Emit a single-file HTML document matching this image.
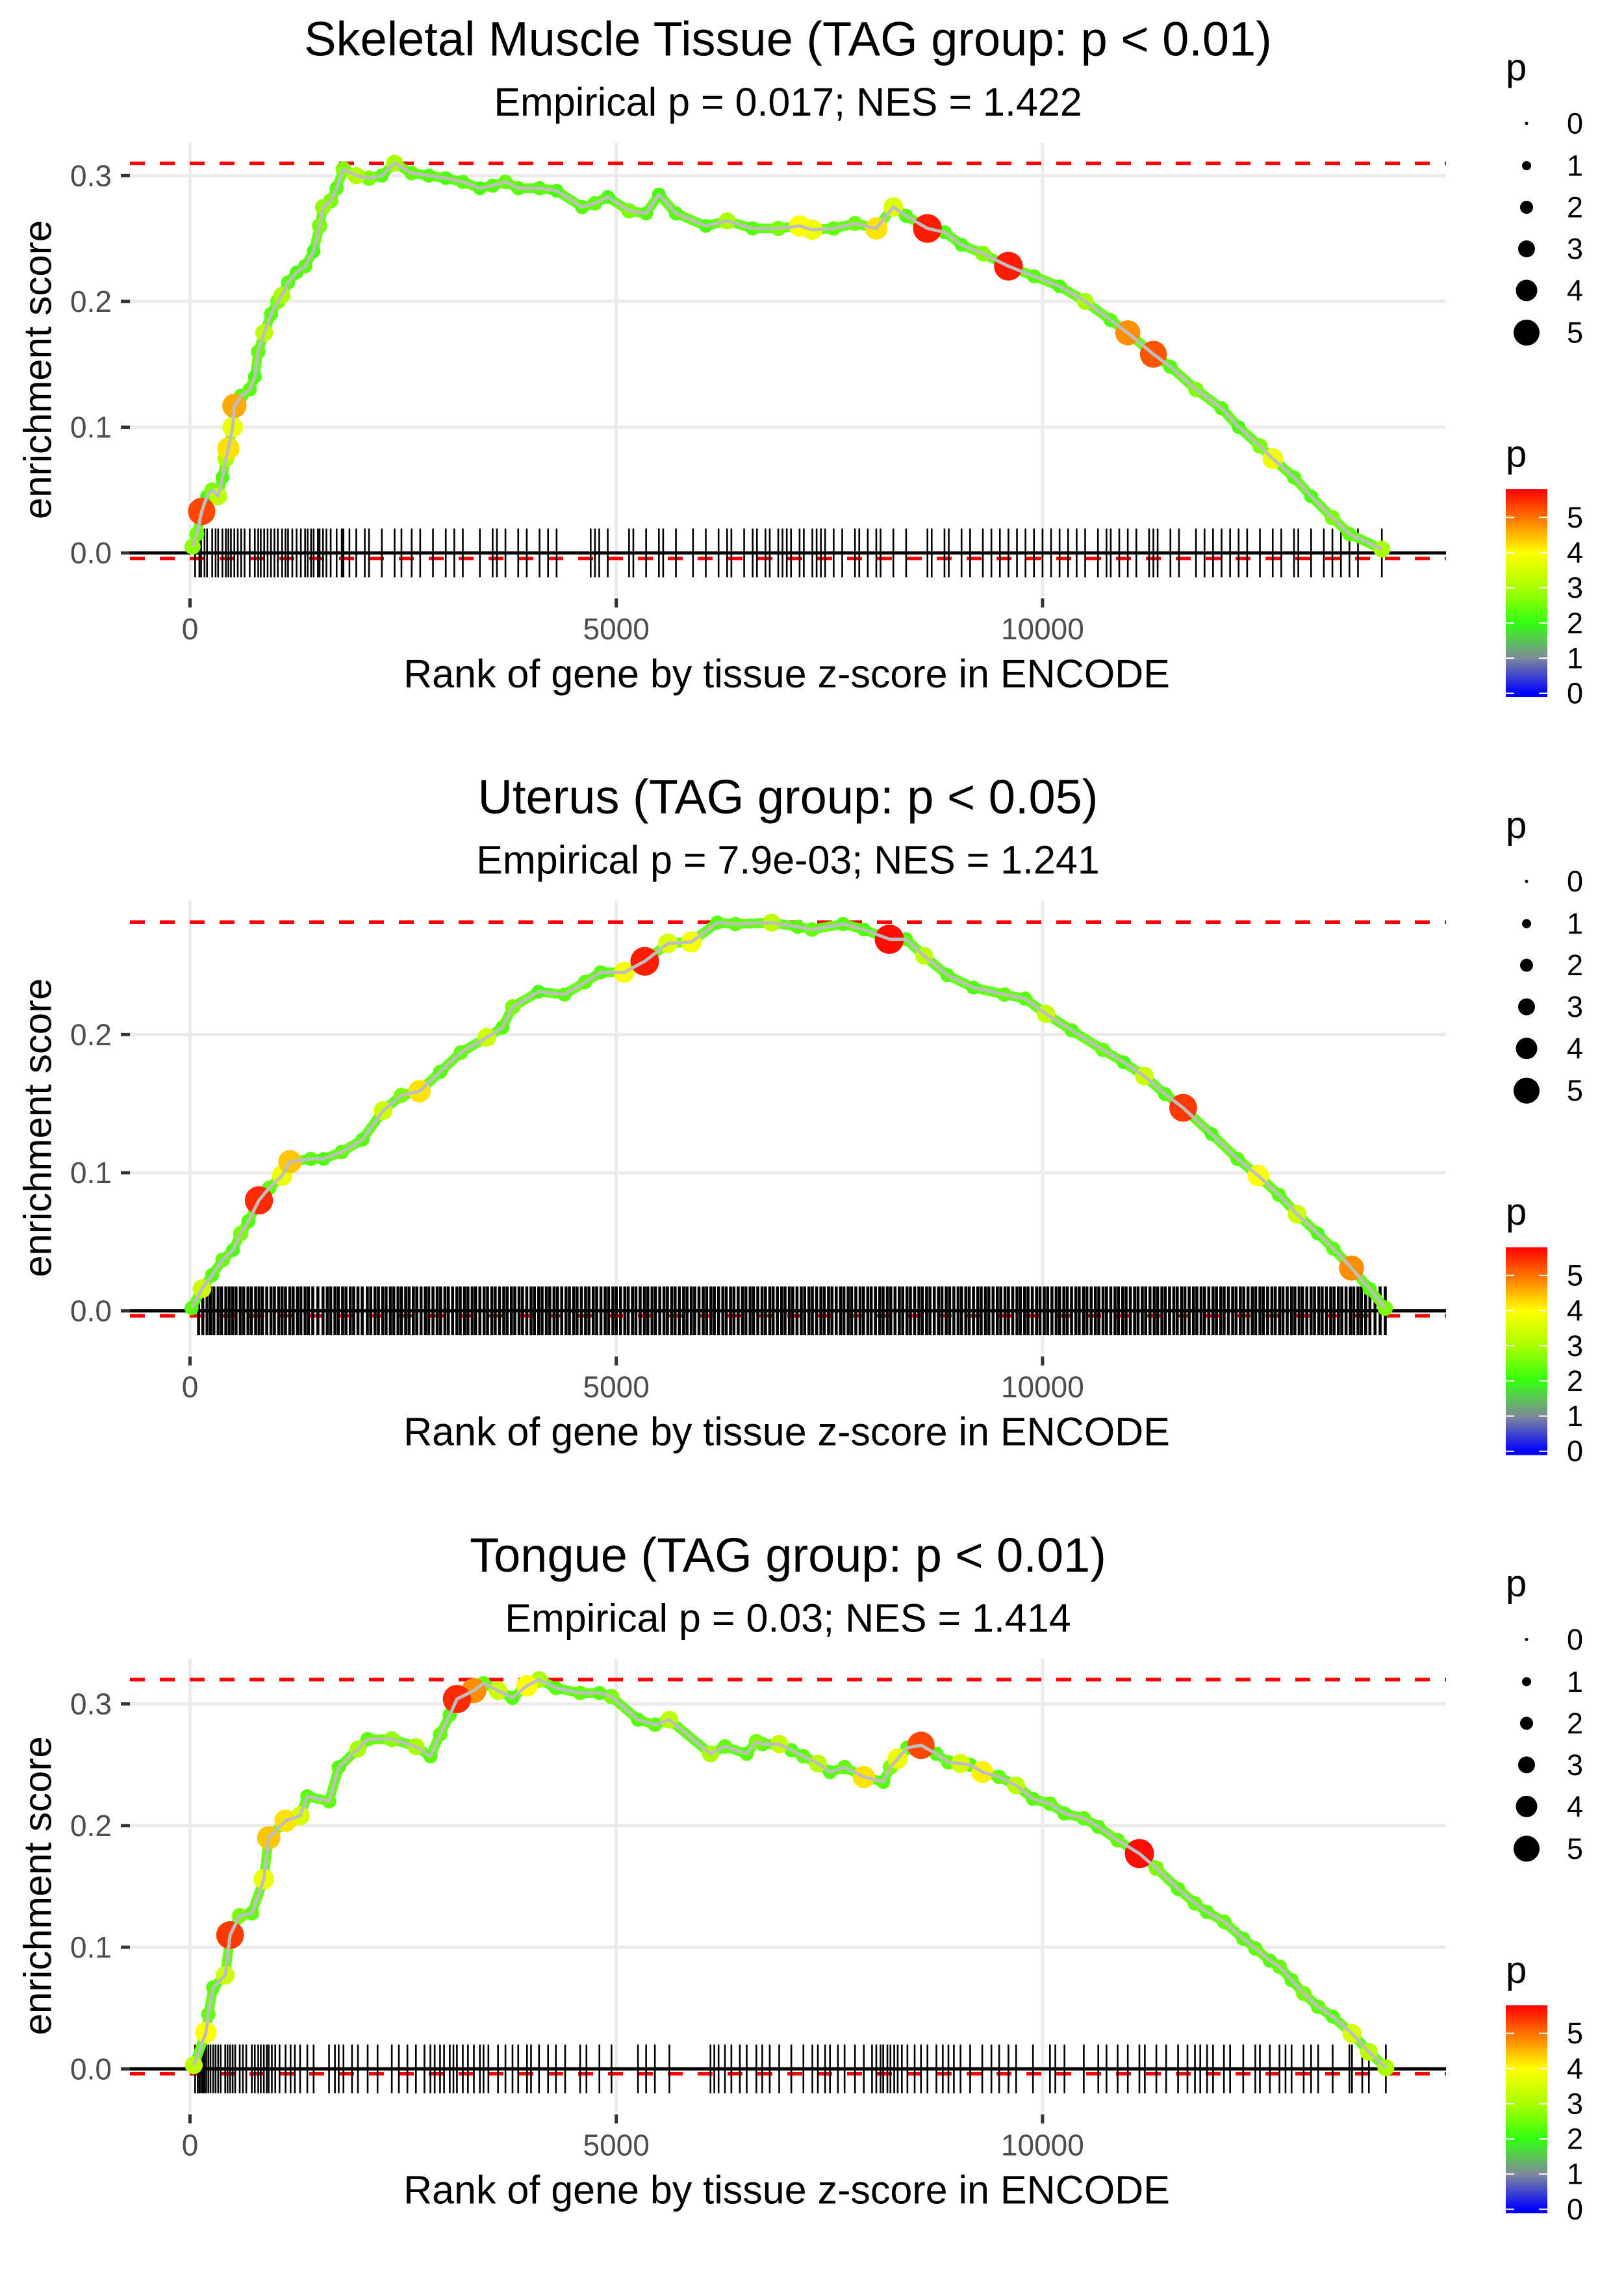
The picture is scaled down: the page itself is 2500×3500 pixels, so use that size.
<!DOCTYPE html>
<html><head><meta charset="utf-8">
<style>
html,body{margin:0;padding:0;background:#fff;}
svg{display:block;font-family:"Liberation Sans",Arial,sans-serif;}
</style></head>
<body>
<svg id="chart" width="2500" height="3500" viewBox="0 0 2500 3500" xmlns="http://www.w3.org/2000/svg"></svg>
<script>
// ---------- DATA ----------
const xTicks = [0, 5000, 10000];
const xTickLabels = ["0", "5000", "10000"];

const skeletalTitle = "Skeletal Muscle Tissue (TAG group: p < 0.01)";
const skeletalSubtitle = "Empirical p = 0.017; NES = 1.422";
const skeletalYDomain = [-0.0346, 0.326];
const skeletalYTicks = [0.0, 0.1, 0.2, 0.3];
const skeletalYTickLabels = ["0.0", "0.1", "0.2", "0.3"];
const skeletalMaxES = 0.3098;
const skeletalMinES = -0.0044;
const skeletalRank = [30,80,137,200,260,330,380,420,450,500,520,560,600,700,760,800,870,950,1030,1080,1150,1250,1350,1450,1520,1560,1650,1720,1800,1950,2100,2250,2400,2600,2800,3000,3200,3400,3550,3700,3850,4100,4300,4600,4750,4900,5150,5350,5500,5700,6050,6300,6600,6900,7150,7300,7550,7800,8050,8250,8400,8650,8850,9050,9300,9600,9900,10200,10500,10800,11000,11300,11500,11800,12100,12300,12550,12700,12950,13150,13400,13600,13980];
const skeletalES = [0.005,0.015,0.033,0.045,0.05,0.045,0.06,0.075,0.083,0.1,0.117,0.12,0.125,0.13,0.14,0.16,0.175,0.19,0.2,0.205,0.215,0.223,0.228,0.24,0.26,0.275,0.28,0.29,0.305,0.3,0.298,0.3,0.31,0.302,0.3,0.298,0.295,0.29,0.292,0.295,0.29,0.29,0.288,0.275,0.278,0.283,0.272,0.27,0.285,0.27,0.26,0.264,0.258,0.258,0.26,0.257,0.258,0.262,0.258,0.275,0.268,0.258,0.255,0.245,0.238,0.228,0.22,0.212,0.2,0.185,0.175,0.158,0.148,0.13,0.115,0.1,0.085,0.075,0.06,0.045,0.028,0.015,0.003];
const skeletalP = [2.8,2.5,5.3,2.2,2.6,3.2,2.2,3.0,4.2,3.8,4.6,2.6,2.4,2.3,2.2,2.4,3.2,2.3,2.6,3.0,2.3,2.2,2.3,2.2,2.6,2.8,2.6,2.3,2.7,3.1,2.6,2.3,3.0,2.4,2.3,2.2,2.3,2.2,2.3,2.4,2.3,2.3,2.2,2.3,2.4,2.2,2.6,2.3,2.2,2.3,2.2,3.0,2.3,2.6,4.0,3.8,2.4,2.5,4.2,3.6,2.3,5.6,2.3,2.2,2.7,5.6,2.3,2.2,3.0,2.3,4.8,5.2,2.3,2.6,2.3,2.2,2.6,3.8,2.3,2.2,2.6,2.4,3.0];
const skeletalRug = [60,110,130,170,200,260,300,330,380,420,450,480,520,560,600,640,700,760,800,830,870,910,950,990,1030,1080,1120,1150,1200,1250,1300,1350,1380,1420,1450,1500,1520,1560,1600,1650,1720,1780,1800,1870,1950,2050,2100,2250,2400,2480,2600,2700,2850,3000,3100,3200,3400,3550,3600,3700,3850,3950,4100,4200,4300,4700,4750,4800,4900,5150,5200,5350,5500,5550,5700,5900,6050,6200,6300,6350,6500,6600,6650,6750,6800,6900,6950,7000,7050,7150,7200,7300,7350,7400,7450,7550,7650,7800,7850,7950,8050,8100,8250,8400,8650,8700,8850,8900,9050,9150,9300,9400,9500,9600,9700,9800,9900,10000,10100,10200,10300,10400,10500,10650,10750,10800,10900,11000,11100,11250,11300,11350,11500,11600,11800,11900,12000,12100,12200,12300,12400,12550,12700,12800,12950,13000,13150,13300,13400,13500,13600,13700,13980];

const uterusTitle = "Uterus (TAG group: p < 0.05)";
const uterusSubtitle = "Empirical p = 7.9e-03; NES = 1.241";
const uterusYDomain = [-0.0315, 0.2967];
const uterusYTicks = [0.0, 0.1, 0.2];
const uterusYTickLabels = ["0.0", "0.1", "0.2"];
const uterusMaxES = 0.2814;
const uterusMinES = -0.0035;
const uterusRank = [18,140,261,383,504,595,686,808,929,1081,1172,1415,1567,1780,2023,2266,2479,2691,2934,3177,3481,3663,3785,4088,4392,4635,4817,5091,5334,5607,5880,6184,6397,6822,7126,7296,7660,7903,8203,8398,8610,8884,9187,9552,9795,10039,10343,10707,10950,11193,11436,11649,11983,12287,12530,12773,12986,13229,13411,13624,13836,14019];
const uterusES = [0.002,0.016,0.026,0.037,0.044,0.056,0.065,0.08,0.089,0.098,0.108,0.11,0.11,0.115,0.124,0.145,0.156,0.159,0.173,0.187,0.198,0.205,0.22,0.231,0.229,0.238,0.245,0.245,0.253,0.266,0.267,0.281,0.28,0.281,0.278,0.276,0.28,0.276,0.269,0.269,0.257,0.243,0.234,0.229,0.226,0.215,0.203,0.189,0.18,0.17,0.157,0.147,0.128,0.11,0.098,0.084,0.07,0.056,0.045,0.031,0.016,0.002];
const uterusP = [2.3,3.4,2.3,2.4,2.2,2.6,2.3,5.5,2.4,3.8,4.4,2.3,2.2,2.4,2.3,3.4,2.6,4.2,2.3,2.4,3.4,2.3,2.6,2.2,2.3,2.4,2.3,3.9,5.6,3.6,3.9,2.3,2.4,3.2,2.3,2.4,2.3,2.2,5.7,2.3,3.2,2.3,2.2,2.4,2.3,3.3,2.3,2.4,2.2,3.4,2.3,5.4,2.2,2.3,4.0,2.3,3.4,2.2,2.3,4.8,2.3,2.6];
const uterusRug = [100,150,200,240,280,330,370,420,460,500,540,590,630,680,720,770,810,850,900,950,990,1040,1080,1120,1170,1210,1260,1300,1350,1390,1440,1500,1560,1610,1650,1700,1740,1790,1830,1880,1920,1970,2020,2080,2120,2170,2210,2260,2300,2350,2390,2440,2480,2530,2570,2620,2660,2710,2760,2800,2850,2900,2940,2990,3030,3080,3130,3170,3220,3260,3310,3350,3400,3450,3490,3540,3580,3630,3680,3720,3770,3810,3860,3900,3950,4000,4040,4090,4130,4180,4220,4270,4310,4360,4410,4450,4500,4540,4590,4640,4680,4730,4770,4820,4870,4910,4960,5000,5050,5100,5140,5190,5230,5280,5330,5370,5420,5460,5510,5560,5600,5650,5690,5740,5790,5830,5880,5920,5970,6020,6060,6110,6150,6200,6250,6290,6340,6380,6430,6480,6520,6570,6610,6660,6710,6750,6800,6840,6890,6940,6980,7030,7070,7120,7170,7210,7260,7300,7350,7400,7440,7490,7530,7580,7630,7670,7720,7760,7810,7860,7900,7950,7990,8040,8090,8130,8180,8220,8270,8320,8360,8410,8450,8500,8550,8590,8640,8680,8730,8780,8820,8870,8910,8960,9010,9050,9100,9140,9190,9240,9280,9330,9370,9420,9470,9510,9560,9600,9650,9700,9740,9790,9830,9880,9930,9970,10020,10060,10110,10160,10200,10250,10290,10340,10390,10430,10480,10520,10570,10620,10660,10710,10750,10800,10850,10890,10940,10980,11030,11080,11120,11170,11210,11260,11310,11350,11400,11440,11490,11540,11580,11630,11670,11720,11770,11810,11860,11900,11950,12000,12040,12090,12130,12180,12230,12270,12320,12360,12410,12460,12500,12550,12590,12640,12690,12730,12780,12820,12870,12920,12960,13010,13050,13100,13150,13190,13240,13280,13330,13380,13420,13470,13510,13560,13610,13650,13700,13740,13790,13840,13900,13960,14020];

const tongueTitle = "Tongue (TAG group: p < 0.01)";
const tongueSubtitle = "Empirical p = 0.03; NES = 1.414";
const tongueYDomain = [-0.0358, 0.337];
const tongueYTicks = [0.0, 0.1, 0.2, 0.3];
const tongueYTickLabels = ["0.0", "0.1", "0.2", "0.3"];
const tongueMaxES = 0.32;
const tongueMinES = -0.004;
const tongueRank = [45,187,215,272,413,470,583,725,866,923,1121,1291,1376,1631,1744,1970,2084,2367,2650,2820,2933,3047,3131,3330,3443,3613,3783,3953,4094,4292,4576,4802,4944,5255,5453,5623,6105,6275,6530,6643,6712,6911,7053,7195,7365,7507,7678,7904,8131,8216,8301,8415,8574,8755,8896,9038,9151,9293,9491,9690,9888,10087,10257,10484,10654,10881,11136,11335,11590,11788,11930,12128,12354,12496,12666,12779,12921,13063,13233,13403,13630,13828,14027];
const tongueES = [0.003,0.03,0.045,0.067,0.077,0.11,0.126,0.128,0.156,0.19,0.204,0.208,0.224,0.22,0.248,0.263,0.271,0.271,0.265,0.257,0.275,0.291,0.304,0.311,0.317,0.311,0.305,0.315,0.32,0.313,0.309,0.309,0.306,0.287,0.283,0.287,0.259,0.265,0.259,0.269,0.267,0.267,0.262,0.257,0.251,0.244,0.248,0.24,0.236,0.248,0.255,0.264,0.266,0.259,0.252,0.251,0.25,0.244,0.24,0.233,0.222,0.218,0.21,0.206,0.199,0.188,0.177,0.165,0.148,0.136,0.129,0.121,0.107,0.099,0.089,0.084,0.073,0.062,0.051,0.043,0.029,0.014,0.001];
const tongueP = [3.2,4.0,2.4,2.3,3.4,5.4,2.6,2.4,3.8,4.4,4.2,3.5,2.3,2.4,2.3,3.0,2.4,2.8,3.0,2.3,2.4,2.3,5.5,4.8,2.4,3.4,2.3,4.0,3.0,2.3,2.4,2.3,2.6,2.3,2.4,3.2,3.0,2.4,2.3,2.6,2.4,3.3,2.3,2.4,3.2,2.3,2.4,4.2,2.3,2.6,3.8,2.4,5.3,2.3,2.4,3.5,2.3,4.1,2.4,3.2,2.3,2.4,2.3,2.4,2.3,2.4,5.7,2.6,2.3,2.4,2.3,2.4,2.3,2.4,2.3,2.4,2.3,2.6,2.4,2.3,3.5,3.2,3.0];
const tongueRug = [60,90,110,130,150,170,190,215,240,272,300,330,360,413,440,470,500,530,583,620,660,725,760,800,830,866,900,923,960,1000,1050,1121,1180,1230,1291,1376,1450,1631,1700,1744,1800,1900,1970,2084,2200,2367,2450,2550,2650,2750,2820,2870,2933,2980,3047,3090,3131,3200,3260,3330,3400,3443,3500,3613,3700,3783,3850,3953,4000,4094,4200,4292,4400,4576,4650,4802,4944,5255,5350,5453,5623,6105,6150,6200,6275,6350,6450,6530,6643,6712,6800,6911,7053,7195,7300,7365,7450,7507,7600,7678,7800,7904,8000,8050,8100,8131,8180,8216,8260,8301,8350,8415,8500,8574,8650,8755,8830,8896,8960,9038,9151,9293,9400,9491,9600,9690,9888,10087,10150,10257,10484,10654,10750,10881,11000,11136,11200,11335,11450,11590,11700,11788,11850,11930,12000,12128,12200,12354,12496,12550,12666,12779,12850,12921,13063,13150,13233,13403,13600,13630,13750,13828,14027];

const sizeLegendValues = [0, 1, 2, 3, 4, 5];
const colorLegendValues = [0, 1, 2, 3, 4, 5];

// ---------- LAYOUT / STYLE ----------
const NS = "http://www.w3.org/2000/svg";
const svg = document.getElementById("chart");
const PANEL_H = 1166.67;
const PX0 = 200, PX1 = 2226, PT = 220, PB = 918;
const X0PX = 292.5, XPERRANK = 0.13124;
const sizeRadii = [2.5, 7, 10, 13, 16.5, 20];
const colorStops = [[0,[0,0,255]],[1,[127,138,153]],[2,[51,255,17]],[3,[170,255,0]],[4,[255,255,0]],[4.6,[255,170,0]],[5.8,[255,0,0]]];

function el(tag, attrs, parent) {
  const e = document.createElementNS(NS, tag);
  for (const k in attrs) e.setAttribute(k, attrs[k]);
  (parent || svg).appendChild(e);
  return e;
}
function xScale(rank) { return X0PX + rank * XPERRANK; }
function makeYScale(domain) {
  return v => PB - (v - domain[0]) / (domain[1] - domain[0]) * (PB - PT);
}
function pColor(p) {
  if (p <= colorStops[0][0]) return "rgb(" + colorStops[0][1].join(",") + ")";
  for (let i = 1; i < colorStops.length; i++) {
    if (p <= colorStops[i][0]) {
      const a = colorStops[i-1], b = colorStops[i];
      const t = (p - a[0]) / (b[0] - a[0]);
      const c = a[1].map((v, j) => Math.round(v + (b[1][j] - v) * t));
      return "rgb(" + c.join(",") + ")";
    }
  }
  return "rgb(255,0,0)";
}
function pRadius(p) {
  const q = Math.max(0, Math.min(5.8, p));
  const i = Math.min(4, Math.floor(q));
  const t = q - i;
  const r1 = sizeRadii[i], r2 = sizeRadii[Math.min(5, i + 1)];
  return r1 + (r2 - r1) * t;
}

function drawPanel(idx, key, title, subtitle, yDomain, yTicks, yTickLabels, maxES, minES, ranks, es, ps, rug) {
  const g = el("g", {transform: "translate(0," + (idx * PANEL_H).toFixed(2) + ")"});
  
  
  const y = makeYScale(yDomain);

  const t = el("text", {x: 1213, y: 60, "font-size": 74, "text-anchor": "middle", "dominant-baseline": "central", fill: "#000"}, g);
  t.textContent = title;
  
  
  const st = el("text", {x: 1213, y: 157, "font-size": 61, "text-anchor": "middle", "dominant-baseline": "central", fill: "#000"}, g);
  st.textContent = subtitle;
  
  

  const grid = el("g", {}, g);
  
  
  yTicks.forEach(v => {
    const l = el("line", {x1: PX0, x2: PX1, y1: y(v), y2: y(v), stroke: "#ebebeb", "stroke-width": 5}, grid);
    
    
  });
  xTicks.forEach(v => {
    const l = el("line", {x1: xScale(v), x2: xScale(v), y1: PT, y2: PB, stroke: "#ebebeb", "stroke-width": 5}, grid);
    
    
  });

  [maxES, minES].forEach((v, i) => {
    const l = el("line", {x1: PX0, x2: PX1, y1: y(v), y2: y(v), stroke: "#ff0000", "stroke-width": 5.5, "stroke-dasharray": "23,23"}, g);
    
    
  });

  const rg = el("g", {}, g);
  
  
  const y0 = y(0);
  const rugW = key === "uterus" ? 4.6 : 2.6;
  rug.forEach(r => {
    const l = el("line", {x1: xScale(r), x2: xScale(r), y1: y0 - 37.5, y2: y0 + 37.5, stroke: "#000", "stroke-width": rugW}, rg);
    
    
  });

  const zl = el("line", {x1: PX0, x2: PX1, y1: y0, y2: y0, stroke: "#000", "stroke-width": 5}, g);
  
  

  let d = "";
  ranks.forEach((r, i) => { d += (i ? "L" : "M") + xScale(r).toFixed(1) + "," + y(es[i]).toFixed(1); });
  const band = el("path", {d: d, fill: "none", stroke: "#66ff18", "stroke-width": 15, "stroke-linejoin": "round", "stroke-linecap": "round"}, g);
  
  
  const pg = el("g", {}, g);
  
  
  const order = ranks.map((_, i) => i).sort((a, b) => ps[a] - ps[b]);
  order.forEach(i => {
    const c = el("circle", {cx: xScale(ranks[i]), cy: y(es[i]), r: pRadius(ps[i]), fill: pColor(ps[i])}, pg);
    
    
  });
  const line = el("path", {d: d, fill: "none", stroke: "#bebebe", "stroke-width": 5, "stroke-linejoin": "round"}, g);
  
  

  yTicks.forEach((v, i) => {
    const tk = el("line", {x1: 186, x2: 200, y1: y(v), y2: y(v), stroke: "#333", "stroke-width": 5}, g);
    
    
    const tl = el("text", {x: 172, y: y(v), "font-size": 46, "text-anchor": "end", "dominant-baseline": "central", fill: "#4d4d4d"}, g);
    tl.textContent = yTickLabels[i];
    
    
  });
  const yt = el("text", {x: 0, y: 0, "font-size": 60, "text-anchor": "middle", "dominant-baseline": "central", fill: "#000",
    transform: "translate(58," + ((PT + PB) / 2) + ") rotate(-90)"}, g);
  yt.textContent = "enrichment score";
  
  

  xTicks.forEach((v, i) => {
    const tk = el("line", {x1: xScale(v), x2: xScale(v), y1: PB + 3, y2: PB + 17, stroke: "#333", "stroke-width": 5}, g);
    
    
    const tl = el("text", {x: xScale(v), y: 968, "font-size": 46, "text-anchor": "middle", "dominant-baseline": "central", fill: "#4d4d4d"}, g);
    tl.textContent = xTickLabels[i];
    
    
  });
  const xt = el("text", {x: 1211, y: 1037, "font-size": 61, "text-anchor": "middle", "dominant-baseline": "central", fill: "#000"}, g);
  xt.textContent = "Rank of gene by tissue z-score in ENCODE";
  
  

  const sl = el("g", {}, g);
  
  
  const slt = el("text", {x: 2318, y: 104, "font-size": 58, "dominant-baseline": "central", fill: "#000"}, sl);
  slt.textContent = "p";
  
  
  const rowY = [190, 255, 319, 383, 447, 512];
  sizeLegendValues.forEach((v, i) => {
    const c = el("circle", {cx: 2350, cy: rowY[i], r: pRadius(v), fill: "#000"}, sl);
    
    
    const tx = el("text", {x: 2412, y: rowY[i], "font-size": 45, "dominant-baseline": "central", fill: "#000"}, sl);
    tx.textContent = String(v);
    
    
  });

  const cl = el("g", {}, g);
  
  
  const clt = el("text", {x: 2318, y: 699, "font-size": 58, "dominant-baseline": "central", fill: "#000"}, cl);
  clt.textContent = "p";
  
  
  const barTop = 753, barBot = 1073, barMin = -0.11, barMax = 5.8;
  const by = v => barBot - (v - barMin) / (barMax - barMin) * (barBot - barTop);
  const gid = "cbar" + idx;
  const defs = el("defs", {}, cl);
  const lg = el("linearGradient", {id: gid, x1: 0, y1: 1, x2: 0, y2: 0}, defs);
  colorStops.forEach(s => {
    el("stop", {offset: ((s[0] - barMin) / (barMax - barMin)).toFixed(4), "stop-color": "rgb(" + s[1].join(",") + ")"}, lg);
  });
  const bar = el("rect", {x: 2318, y: barTop, width: 64, height: barBot - barTop, fill: "url(#" + gid + ")"}, cl);
  
  
  colorLegendValues.forEach(v => {
    el("line", {x1: 2318, x2: 2331, y1: by(v), y2: by(v), stroke: "#fff", "stroke-width": 2}, cl);
    el("line", {x1: 2369, x2: 2382, y1: by(v), y2: by(v), stroke: "#fff", "stroke-width": 2}, cl);
    const tx = el("text", {x: 2412, y: by(v), "font-size": 45, "dominant-baseline": "central", fill: "#000"}, cl);
    tx.textContent = String(v);
    
    
  });
}

drawPanel(0, "skeletal", skeletalTitle, skeletalSubtitle, skeletalYDomain, skeletalYTicks, skeletalYTickLabels, skeletalMaxES, skeletalMinES, skeletalRank, skeletalES, skeletalP, skeletalRug);
drawPanel(1, "uterus", uterusTitle, uterusSubtitle, uterusYDomain, uterusYTicks, uterusYTickLabels, uterusMaxES, uterusMinES, uterusRank, uterusES, uterusP, uterusRug);
drawPanel(2, "tongue", tongueTitle, tongueSubtitle, tongueYDomain, tongueYTicks, tongueYTickLabels, tongueMaxES, tongueMinES, tongueRank, tongueES, tongueP, tongueRug);
</script>
</body></html>
